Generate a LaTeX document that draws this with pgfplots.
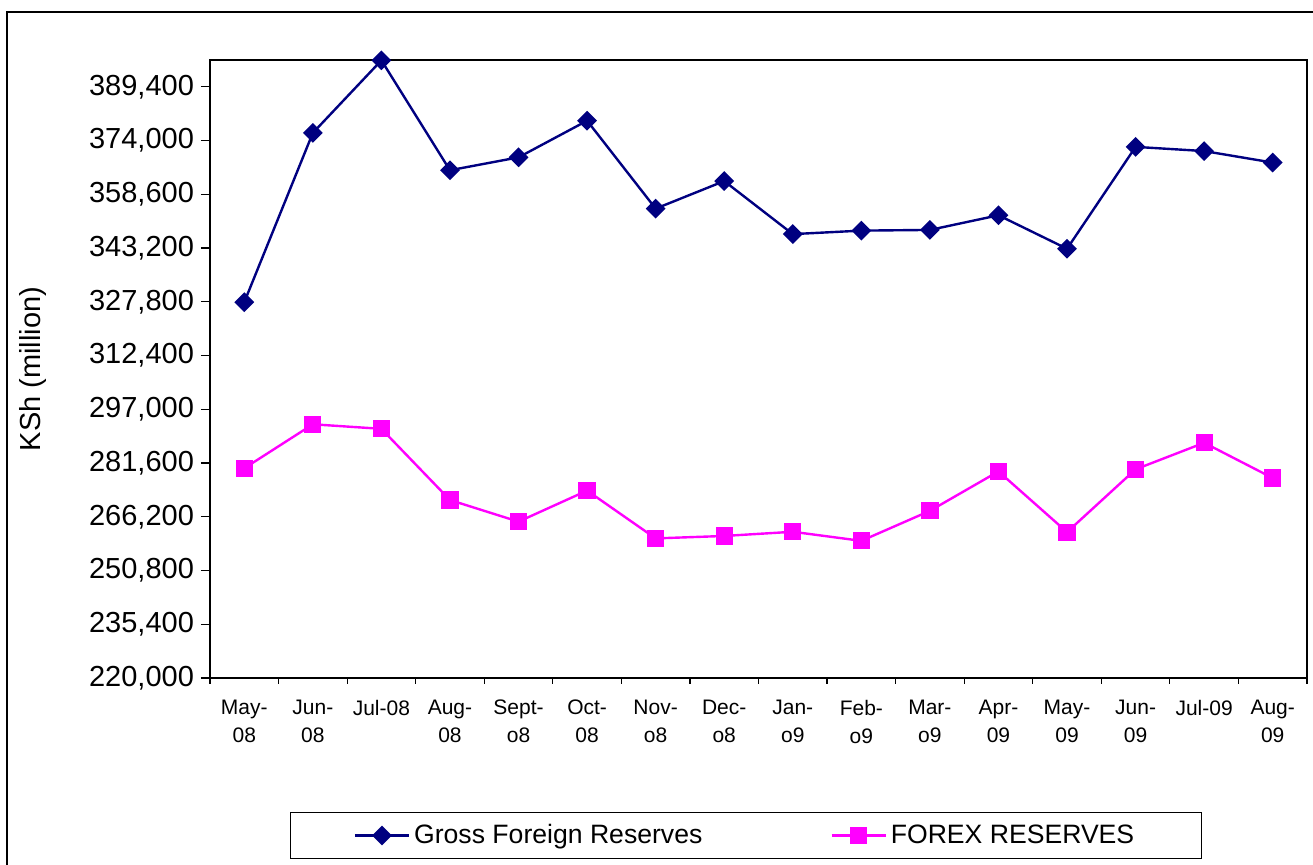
\documentclass[border=0pt]{standalone}
\usepackage{pgfplots}
\pgfplotsset{compat=1.18}
\usepackage{fontspec}
\setmainfont{Liberation Sans}
\definecolor{navyc}{RGB}{0,0,128}
\definecolor{magc}{RGB}{255,0,255}
\begin{document}
\begin{tikzpicture}
\useasboundingbox (0,0) rectangle (656.5pt,432.5pt);
\draw[line width=0.6pt] (3.5pt,-30pt) rectangle (720pt,426.5pt);
\begin{axis}[
  at={(105pt,93.5pt)}, anchor=south west,
  scale only axis, width=548.5pt, height=309pt,
  xmin=-0.5, xmax=15.5, ymin=220000, ymax=397100,
  clip=false,
  axis line style={line width=1.2pt},
  xtick={0,...,15},
  xticklabels={{May-\\08},{Jun-\\08},{Jul-08},{Aug-\\08},{Sept-\\o8},{Oct-\\08},{Nov-\\o8},{Dec-\\o8},{Jan-\\o9},{Feb-\\o9},{Mar-\\o9},{Apr-\\09},{May-\\09},{Jun-\\09},{Jul-09},{Aug-\\09}},
  major x tick style={draw=none},
  minor xtick={-0.5,0.5,...,15.5},
  minor x tick style={line width=0.6pt, black},
  minor tick length=3pt,
  ytick={220000,235400,250800,266200,281600,297000,312400,327800,343200,358600,374000,389400},
  y tick style={line width=0.6pt, black},
  major tick length=4.5pt,
  tick align=outside, tick pos=left,
  scaled y ticks=false,
  yticklabel style={font=\fontsize{14.5}{17}\selectfont, /pgf/number format/fixed, /pgf/number format/1000 sep={,}, /pgf/number format/assume math mode=true},
  xticklabel style={font=\fontsize{10.5}{14}\selectfont, align=center, anchor=north, yshift=-3pt},
  ylabel={KSh (million)},
  ylabel style={font=\fontsize{14.5}{17}\selectfont, at={(axis description cs:-0.1613,0.5)}, anchor=center},
  legend columns=2,
  legend style={at={(0.4886,-0.2549)}, anchor=center, draw=black, line width=0.6pt,
    font=\fontsize{13.3}{15}\selectfont, inner xsep=31.5pt, inner ysep=4pt,
    /tikz/every even column/.append style={column sep=62pt}},
  legend image code/.code={\draw[#1, mark repeat=2, mark phase=2] plot coordinates {(0pt,0pt) (13.5pt,0pt) (27pt,0pt)};},
]
\addplot[color=navyc, line width=1.2pt, mark=square*, mark size=2.9pt, mark options={rotate=45, fill=navyc}] coordinates {
(0,327700) (1,376200) (2,397000) (3,365500) (4,369200) (5,379700) (6,354500) (7,362400)
(8,347200) (9,348200) (10,348400) (11,352600) (12,343000) (13,372200) (14,371000) (15,367700)};
\addlegendentry{Gross Foreign Reserves}
\addplot[color=magc, line width=1.2pt, mark=square*, mark size=3.7pt, mark options={fill=magc}] coordinates {
(0,280100) (1,292700) (2,291400) (3,271000) (4,264800) (5,273700) (6,260000) (7,260700)
(8,261900) (9,259300) (10,267900) (11,279200) (12,261800) (13,279800) (14,287400) (15,277300)};
\addlegendentry{FOREX RESERVES}
\end{axis}
\end{tikzpicture}
\end{document}
